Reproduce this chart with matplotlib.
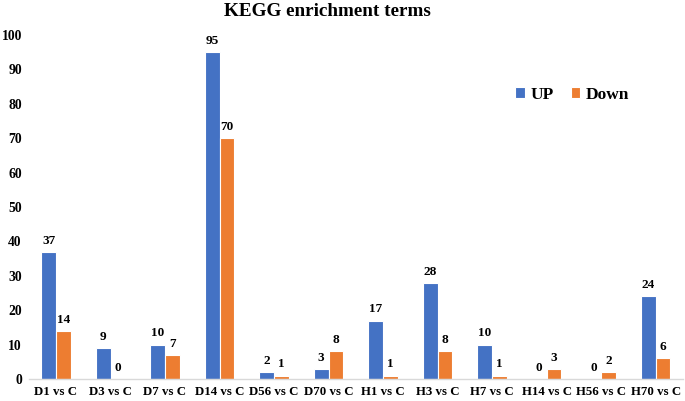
import matplotlib.pyplot as plt
import numpy as np

categories = ["D1 vs C", "D3 vs C", "D7 vs C", "D14 vs C", "D56 vs C", "D70 vs C",
              "H1 vs C", "H3 vs C", "H7 vs C", "H14 vs C", "H56 vs C", "H70 vs C"]
up = [37, 9, 10, 95, 2, 3, 17, 28, 10, 0, 0, 24]
down = [14, 0, 7, 70, 1, 8, 1, 8, 1, 3, 2, 6]

plt.rcParams['font.family'] = ['Liberation Serif', 'DejaVu Serif']
plt.rcParams['font.weight'] = 'bold'

fig = plt.figure(figsize=(6.85, 4.01), dpi=100)
ax = fig.add_axes([0.042, 0.0549, 0.955, 0.8578])

x = np.arange(len(categories))
w = 0.27
blue = "#4472C4"
orange = "#ED7D31"
b1 = ax.bar(x - w/2, up, w, color=blue, edgecolor="white", linewidth=0.8, label="UP")
b2 = ax.bar(x + w/2, down, w, color=orange, edgecolor="white", linewidth=0.8, label="Down")
for bars in (b1, b2):
    for r in bars:
        h = r.get_height()
        ax.text(r.get_x() + r.get_width()/2, h + 1.5, f"{int(h)}", ha="center", va="bottom",
                fontsize=9.5, fontweight="bold")

ax.set_xlim(-0.5, len(categories) - 0.5)
ax.set_ylim(0, 100)
ax.set_yticks(np.arange(0, 101, 10))
ax.set_xticks(x)
ax.set_xticklabels(categories, fontsize=9.3, fontweight="bold")
ax.tick_params(axis="both", length=0)
ax.tick_params(axis="x", pad=5, labelsize=9.3)
ax.tick_params(axis="y", pad=5, labelsize=9.8)
for lab in ax.get_yticklabels():
    lab.set_fontweight("bold")
for s in ["top", "right", "left"]:
    ax.spines[s].set_visible(False)
ax.spines["bottom"].set_color("#D9D9D9")
ax.spines["bottom"].set_linewidth(1)

fig.text(0.478, 0.972, "KEGG enrichment terms", ha="center", va="center", fontsize=13.8, fontweight="bold")
ax.legend(loc="upper left", bbox_to_anchor=(0.72, 0.895), ncol=2, frameon=False,
          prop={"size": 12.5, "weight": "bold"}, handlelength=0.55, handleheight=0.55,
          handletextpad=0.3, columnspacing=1.0)

fig.savefig("out.png", dpi=100)
